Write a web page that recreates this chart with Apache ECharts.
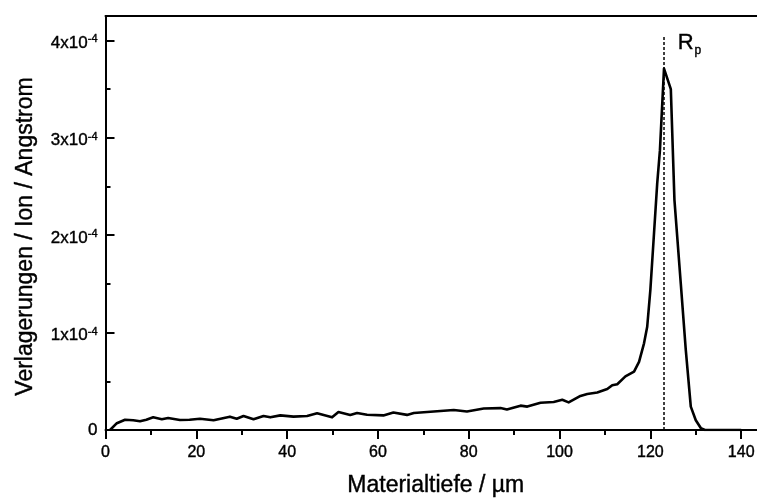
<!DOCTYPE html>
<html>
<head>
<meta charset="utf-8">
<script src="https://cdn.jsdelivr.net/npm/echarts@6/dist/echarts.min.js"></script>
<style>
html,body{margin:0;padding:0;background:#fff;}
#chart{width:757px;height:498px;}
</style>
</head>
<body>
<div id="chart"></div>
<script>
// Depth in µm
const depth = [1.0, 2.5, 4.3, 6.1, 7.6, 9.0, 10.5, 12.4, 13.8, 16.4, 18.5, 20.8, 23.8, 27.4, 28.9, 30.4, 32.6, 34.8, 36.3, 38.5,
  41.4, 44.4, 46.6, 49.9, 51.3, 53.9, 55.4, 57.6, 61.2, 63.4, 66.4, 67.9, 72.3, 76.7, 79.6, 83.3, 87.0, 88.4, 91.4, 92.9,
  95.8, 98.7, 100.6, 102.0, 104.6, 106.1, 108.3, 110.5, 111.6, 112.7, 114.5, 116.4, 117.5, 118.6, 119.3, 120.0, 120.8, 121.5, 122.1, 123.0,
  124.5, 125.3, 126.7, 127.8, 128.9, 130.0, 131.1, 132.0, 136.0, 140.0];
// Displacements per ion per Angstrom, in units of 1e-5
const displacementE5 = [0.0, 0.7, 1.05, 1.0, 0.9, 1.05, 1.3, 1.1, 1.23, 1.03, 1.05, 1.16, 1.0, 1.37, 1.16, 1.44, 1.1, 1.44, 1.3, 1.5,
  1.37, 1.44, 1.71, 1.3, 1.85, 1.55, 1.75, 1.57, 1.5, 1.8, 1.55, 1.75, 1.9, 2.05, 1.9, 2.2, 2.25, 2.1, 2.5, 2.4,
  2.8, 2.87, 3.1, 2.84, 3.5, 3.7, 3.85, 4.2, 4.6, 4.7, 5.5, 6.0, 7.0, 8.9, 10.6, 14.4, 20.2, 25.3, 28.7, 37.1,
  35.0, 23.6, 15.0, 8.2, 2.4, 1.0, 0.2, 0.0, 0.0, 0.0];
const displacementUnit = 1e-5;
// Projected range marker
const rpDepth = 123.0;
const rpLineTop = 4.05e-4;
const rpLabelPos = [126.0, 3.97e-4];
const xTicks = [0, 20, 40, 60, 80, 100, 120, 140];
const yTickExponent = -4;

const series = depth.map((d, i) => [d, displacementE5[i] * displacementUnit]);
const FONT = "'Liberation Sans', Arial, Helvetica, sans-serif";
const INK = {color: '#000', textBorderColor: '#000', textBorderWidth: 0.4};

const chart = echarts.init(document.getElementById('chart'), null, {renderer: 'canvas'});
chart.setOption({
  animation: false,
  backgroundColor: '#fff',
  grid: {left: 105.5, top: 16, right: -1, bottom: 68, containLabel: false, outerBoundsMode: 'none'},
  xAxis: [{
    type: 'value', min: 0, max: 143.7, interval: 20,
    name: 'Materialtiefe / µm', nameLocation: 'middle', nameGap: 44,
    nameTextStyle: Object.assign({fontFamily: FONT, fontSize: 23, padding: [0, 0, 0, 8]}, INK),
    axisLine: {show: true, onZero: false, lineStyle: {color: '#000', width: 2}},
    axisTick: {show: true, inside: false, length: 9, lineStyle: {color: '#000', width: 2}},
    minorTick: {show: true, splitNumber: 2, length: 5, lineStyle: {color: '#000', width: 2}},
    splitLine: {show: false},
    axisLabel: Object.assign({fontFamily: FONT, fontSize: 16, margin: 15, showMaxLabel: false,
      formatter: v => xTicks.includes(v) ? String(v) : ''}, INK)
  }, {
    type: 'value', position: 'top', min: 0, max: 143.7,
    axisLine: {show: true, onZero: false, lineStyle: {color: '#000', width: 2}},
    axisTick: {show: false}, axisLabel: {show: false}, splitLine: {show: false}
  }],
  yAxis: {
    type: 'value', min: 0, max: 4.25e-4, interval: 1e-4,
    name: 'Verlagerungen / Ion / Angstrom', nameLocation: 'middle', nameGap: 68,
    nameTextStyle: Object.assign({fontFamily: FONT, fontSize: 23, padding: [0, 27, 0, 0]}, INK),
    axisLine: {show: true, onZero: false, lineStyle: {color: '#000', width: 2}},
    axisTick: {show: true, inside: true, length: 9, lineStyle: {color: '#000', width: 2}},
    minorTick: {show: true, splitNumber: 2, length: 5, lineStyle: {color: '#000', width: 2}},
    splitLine: {show: false},
    axisLabel: Object.assign({
      fontFamily: FONT, fontSize: 17, margin: 8, showMaxLabel: false,
      formatter: v => {
        if (Math.abs(v) < 1e-12) return '0';
        const n = Math.round(v / Math.pow(10, yTickExponent));
        return '{a|' + n + 'x10}{s|' + yTickExponent + '}';
      },
      rich: {
        a: Object.assign({fontFamily: FONT, fontSize: 17, padding: [6, 0, 0, 0]}, INK),
        s: Object.assign({fontFamily: FONT, fontSize: 11, padding: [0, 0, 2, 0]}, INK)
      }
    }, INK)
  },
  series: [{
    type: 'line', data: series, showSymbol: false, symbol: 'none', smooth: false,
    lineStyle: {color: '#000', width: 2.6, join: 'round'}, z: 3
  }, {
    type: 'line', data: [[rpDepth, 0], [rpDepth, rpLineTop]], symbol: 'none',
    lineStyle: {color: '#000', width: 1.5, type: [3, 2]}, z: 2
  }, {
    type: 'scatter', data: [rpLabelPos], symbolSize: 0, itemStyle: {opacity: 1},
    label: Object.assign({
      show: true, position: 'right', distance: 0,
      formatter: '{r|R}{p|p}',
      rich: {
        r: Object.assign({fontFamily: FONT, fontSize: 22}, INK),
        p: Object.assign({fontFamily: FONT, fontSize: 12, padding: [14, 0, 0, 1]}, INK)
      }
    }, INK)
  }]
});
</script>
</body>
</html>
